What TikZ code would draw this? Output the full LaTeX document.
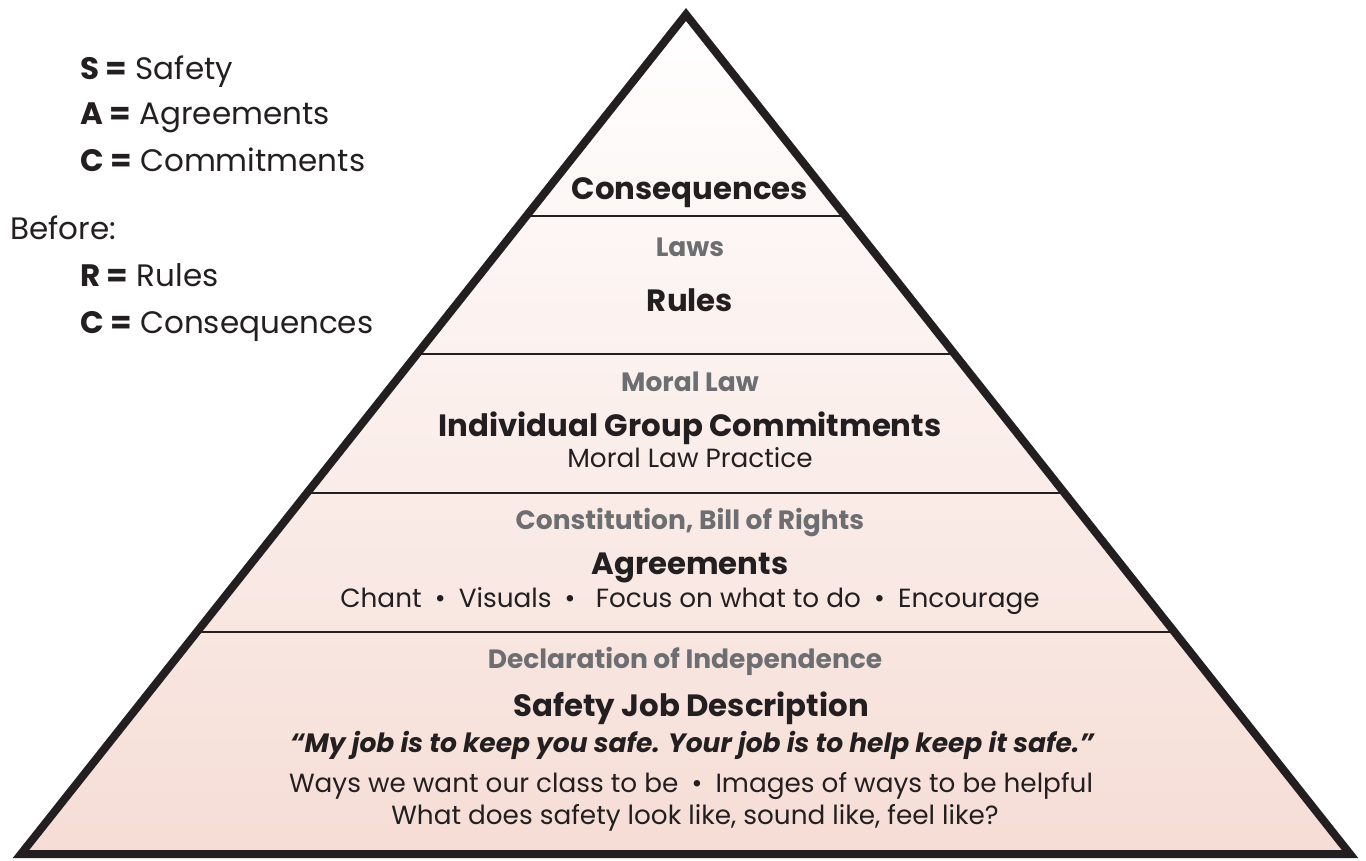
\documentclass[tikz,border=0pt]{standalone}
\usepackage{fontspec}
\setmainfont{Poppins}

\definecolor{ink}{HTML}{231F20}
\definecolor{tagGray}{HTML}{6D6E71}
\definecolor{blush}{HTML}{F6DDD6}

\tikzset{
  level/.style={anchor=base, inner sep=0pt, text=ink, font=\fontsize{30.8}{36}\selectfont\bfseries},
  tag/.style={anchor=base, inner sep=0pt, text=tagGray, font=\fontsize{26.5}{30}\selectfont\bfseries},
  detail/.style={anchor=base, inner sep=0pt, text=ink, font=\fontsize{26.3}{30}\selectfont},
  motto/.style={anchor=base, inner sep=0pt, text=ink, font=\fontsize{26.5}{30}\selectfont\bfseries\itshape},
  legend/.style={anchor=base west, inner sep=0pt, text=ink, font=\fontsize{31}{36}\selectfont},
}
\newcommand{\sep}{\enspace\textbullet\enspace}

\begin{document}
\begin{tikzpicture}[x=1pt,y=-1pt]
  \useasboundingbox (0,0) rectangle (1366,861);

  % pyramid corners
  \coordinate (apex) at (686,14.5);
  \coordinate (baseL) at (21,854);
  \coordinate (baseR) at (1350,854);

  \begin{scope}
    \clip (apex) -- (baseR) -- (baseL) -- cycle;
    \shade[top color=white, bottom color=blush] (0,14.5) rectangle (1366,854);
    \foreach \y in {216,354,493,632}
      \draw[ink, line width=2.6pt] (0,\y) -- (1366,\y);
  \end{scope}
  \draw[ink, line width=8pt, line join=miter] (apex) -- (baseR) -- (baseL) -- cycle;

  % tiers, top to bottom
  \node[level] (cons) at (690,200) {Consequences};

  \node[tag] (laws) at (690,257) {Laws};
  \node[level] (rules) at (690,312) {Rules};

  \node[tag] (moral) at (690,391) {Moral Law};
  \node[level] (igc) at (690,436) {Individual Group Commitments};
  \node[detail] (practice) at (690,467) {Moral Law Practice};

  \node[tag] (const) at (690,529) {Constitution, Bill of Rights};
  \node[level] (agree) at (690,574) {Agreements};
  \node[detail] (chant) at (690,607) {Chant\sep Visuals\sep\ Focus on what to do\sep Encourage};

  \node[tag] (decl) at (685,668) {Declaration of Independence};
  \node[level] (sjd) at (691,716) {Safety Job Description};
  \node[motto] (job) at (692,752) {“My job is to keep you safe. Your job is to help keep it safe.”};
  \node[detail] (ways) at (691,792) {Ways we want our class to be\sep Images of ways to be helpful};
  \node[detail] (feel) at (695,824) {What does safety look like, sound like, feel like?};

  % key
  \node[legend] (keyS) at (80,80) {\textbf{S =} Safety};
  \node[legend] (keyA) at (80,125) {\textbf{A =} Agreements};
  \node[legend] (keyC) at (80,172) {\textbf{C =} Commitments};
  \node[legend] (before) at (10,240) {Before:};
  \node[legend] (keyR) at (80,287) {\textbf{R =} Rules};
  \node[legend] (keyCo) at (80,334) {\textbf{C =} Consequences};
\end{tikzpicture}
\end{document}
